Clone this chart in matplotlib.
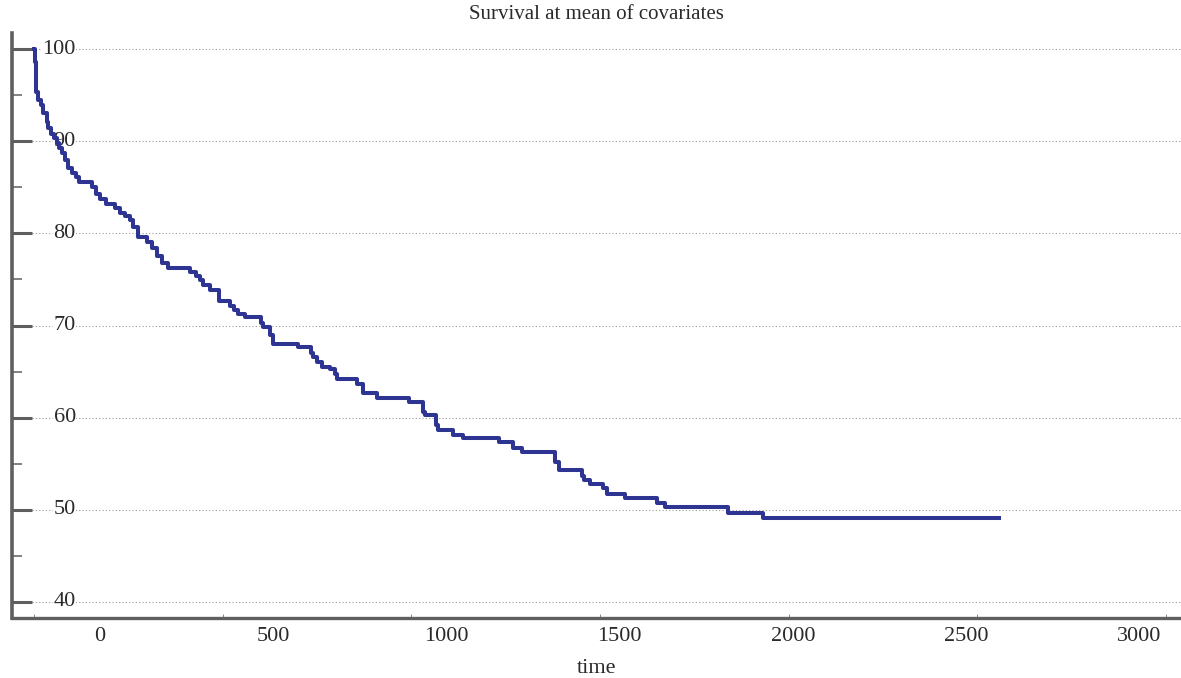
import matplotlib
matplotlib.use("Agg")
from matplotlib import pyplot as plt
import matplotlib.transforms as mtransforms

# step times (days) and survival (%)
times = [0, 2, 5, 10, 19, 25, 34, 38, 45, 54, 60, 66, 73, 82, 91, 100, 110, 120,
         153, 164, 175, 191, 215, 228, 241, 254, 262, 276, 299, 313, 326, 339, 355,
         413, 429, 440, 448, 466, 490, 519, 530, 541, 559, 602, 607, 625, 633,
         700, 734, 739, 750, 763, 784, 798, 803, 856, 872, 909, 994, 1031, 1036,
         1065, 1071, 1110, 1137, 1232, 1270, 1293, 1381, 1391, 1452, 1458, 1474,
         1508, 1519, 1566, 1651, 1672, 1839, 1932, 2557]
surv = [100, 98.6, 95.3, 94.5, 93.9, 93.1, 92.1, 91.4, 90.8, 90.3, 89.8, 89.3, 88.7,
        88.0, 87.1, 86.5, 86.1, 85.6, 85.0, 84.3, 83.7, 83.2, 82.7, 82.2, 81.9,
        81.4, 80.7, 79.6, 79.1, 78.4, 77.5, 76.8, 76.2, 75.8, 75.4, 74.9, 74.4,
        73.9, 72.7, 72.1, 71.7, 71.2, 70.9, 70.3, 69.8, 69.0, 68.0, 67.7, 67.0,
        66.6, 66.0, 65.5, 65.3, 64.7, 64.2, 63.7, 62.7, 62.1, 61.7, 60.6, 60.3,
        59.2, 58.7, 58.1, 57.8, 57.4, 56.7, 56.3, 55.2, 54.3, 53.7, 53.2, 52.8,
        52.4, 51.7, 51.3, 50.7, 50.3, 49.7, 49.15, 49.15]

xticks = [0, 500, 1000, 1500, 2000, 2500, 3000]
xtick_labels = ['0', '500', '1000', '1500', '2000', '2500', '3000']
yticks = [40, 50, 60, 70, 80, 90, 100]
yminor = [45, 55, 65, 75, 85, 95]

plt.rcParams['font.family'] = ['Liberation Serif', 'DejaVu Serif']
axis_grey = '#5f5f5f'
text_col = '#2a2a2a'

fig = plt.figure(figsize=(11.81, 6.78), dpi=100)
ax = fig.add_axes([0.0102, 0.0885, 0.9898, 0.8628])

ax.set_xlim(-58.3, 3039.8)
ax.set_ylim(38.26, 101.74)

ax.step(times, surv, where='post', color='#2e3492', lw=2.9, zorder=5)

for s in ['top', 'right']:
    ax.spines[s].set_visible(False)
ax.spines['left'].set_linewidth(2.6)
ax.spines['left'].set_color(axis_grey)
ax.spines['bottom'].set_linewidth(2.4)
ax.spines['bottom'].set_color(axis_grey)

ax.set_yticks(yticks)
ax.set_yticks(yminor, minor=True)
ax.tick_params(axis='y', which='major', direction='in', length=14.4, width=2.2,
               color=axis_grey, labelleft=False)
ax.tick_params(axis='y', which='minor', direction='in', length=7.2, width=1.1,
               color=axis_grey)
ax.set_xticks(xticks)
ax.tick_params(axis='x', which='major', direction='in', length=3, width=0.7,
               color='#888888', labelbottom=False)

ax.grid(axis='y', which='major', color='#9a9a9a', lw=0.8, linestyle=(0, (1, 2)),
        zorder=1)
ax.set_axisbelow(True)

# y labels sit inside the plot, over the grid
ytrans = mtransforms.blended_transform_factory(ax.transAxes, ax.transData)
for v in yticks:
    ax.text(0.0545, v, str(v), transform=ytrans, ha='right', va='center',
            fontsize=16, color=text_col, zorder=3,
            bbox=dict(facecolor='white', edgecolor='none', pad=0.5))

# x labels are drawn a little off their tick marks, as in the original
for i, lab in enumerate(xtick_labels):
    ax.text(0.0753 + 0.14816 * i, -0.032, lab, transform=ax.transAxes,
            ha='center', va='center', fontsize=16, color=text_col)

ax.text(0.5, -0.087, 'time', transform=ax.transAxes, ha='center', va='center',
        fontsize=16, color=text_col)
fig.text(0.505, 0.979, 'Survival at mean of covariates', ha='center',
         va='center', fontsize=15, color=text_col)

fig.savefig('out.png', dpi=100)
